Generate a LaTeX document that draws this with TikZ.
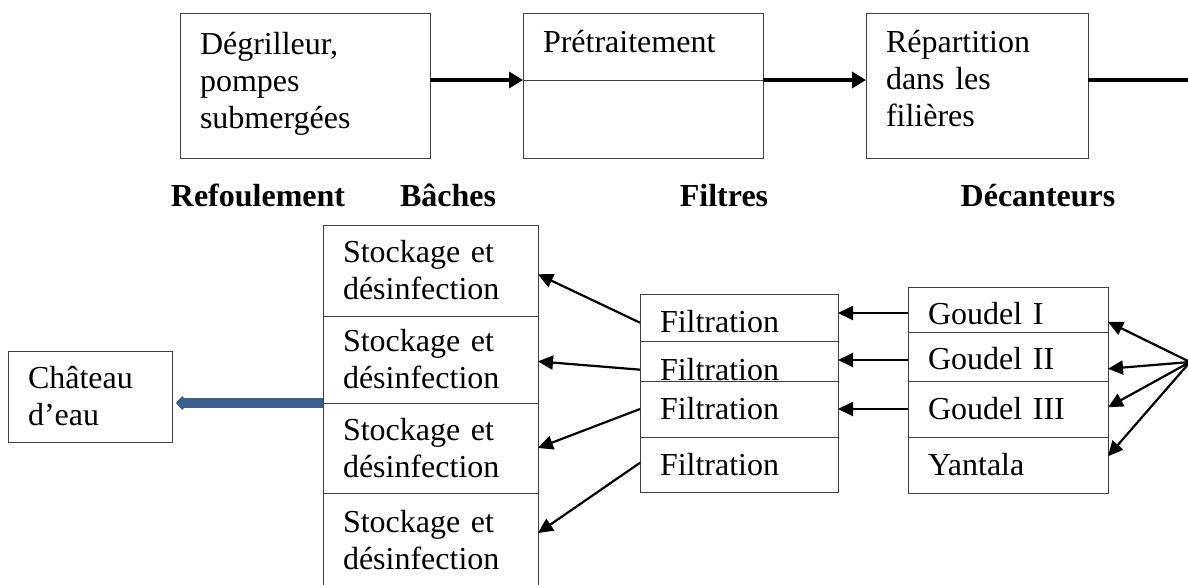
\documentclass[tikz,border=0pt]{standalone}
\usepackage{fontspec}
\setmainfont{Liberation Serif}
\usetikzlibrary{arrows.meta}
\definecolor{bleu}{RGB}{60,95,140}
\newcommand\Taille{\fontsize{32}{37}\selectfont}
\newcommand\Decale[2]{\raisebox{#1}[\height][0pt]{#2}}
\tikzset{
  box/.style={draw=black!75,line width=1pt,rectangle,anchor=north west,
    inner xsep=20pt,inner ysep=0pt,outer sep=0pt,align=left},
  titre/.style={font=\Taille\bfseries,anchor=base},
  flux/.style={>={Triangle[length=14pt,width=16pt]},->,line width=4pt},
  fleche/.style={->,line width=2.2pt},
}
\begin{document}
\begin{tikzpicture}[x=1pt,y=-1pt,font=\Taille,>={Triangle[length=15pt,width=14pt]}]
\useasboundingbox (0,0) rectangle (1188,584);

\node[box,text width=210pt,minimum height=145pt,text depth=85pt] (degr) at (180,13) {Dégrilleur,\\pompes\\submergées};
\node[box,text width=200pt,minimum height=67pt] (pre) at (523,13) {\Decale{5pt}{Prétraitement}};
\node[box,text width=200pt,minimum height=78pt] (prebas) at (pre.south west) {};
\node[box,text width=182pt,minimum height=145pt,text depth=88pt] (rep) at (866,13) {Répartition\\dans les\\filières};
\coordinate (sortie) at (1195,80);

\draw[flux] (degr.east |- prebas.north west) -- (prebas.north west);
\draw[flux] (pre.south east) -- (rep.west |- pre.south east);
\draw[line width=4pt] (rep.east |- sortie) -- (sortie);

\node[titre] (tref) at (258,206) {Refoulement};
\node[titre] (tbac) at (448,206) {Bâches};
\node[titre] (tfil) at (724,206) {Filtres};
\node[titre] (tdec) at (1038,206) {Décanteurs};

\node[box,text width=175pt,minimum height=91pt] (stock1) at (323,225) {Stockage et\\désinfection};
\node[box,text width=175pt,minimum height=87pt] (stock2) at (stock1.south west) {Stockage et\\désinfection};
\node[box,text width=175pt,minimum height=90pt] (stock3) at (stock2.south west) {Stockage et\\désinfection};
\node[box,text width=175pt,minimum height=99pt,text depth=43pt] (stock4) at (stock3.south west) {Stockage et\\désinfection};

\node[box,text width=124pt,minimum height=91pt] (chat) at (8,351) {Château\\d’eau};

\node[box,text width=158pt,minimum height=47pt] (filt1) at (640,294) {\Decale{-4pt}{Filtration}};
\node[box,text width=158pt,minimum height=40pt] (filt2) at (filt1.south west) {\Decale{-8pt}{Filtration}};
\node[box,text width=158pt,minimum height=56pt] (filt3) at (filt2.south west) {Filtration};
\node[box,text width=158pt,minimum height=55pt] (filt4) at (filt3.south west) {Filtration};

\node[box,text width=160pt,minimum height=45pt] (goud1) at (908,287) {\Decale{-4pt}{Goudel I}};
\node[box,text width=160pt,minimum height=49pt] (goud2) at (goud1.south west) {\Decale{-2pt}{Goudel II}};
\node[box,text width=160pt,minimum height=56pt] (goud3) at (goud2.south west) {Goudel III};
\node[box,text width=160pt,minimum height=56pt] (yant) at (goud3.south west) {Yantala};

\coordinate (source) at (1190,362);
\draw[fleche] (source) -- (goud1.-7);
\draw[fleche] (source) -- (goud2.-7);
\draw[fleche] (source) -- (goud3.1);
\draw[fleche] (source) -- (yant.5);

\draw[fleche] (goud1.182) -- (goud1.182 -| filt1.east);
\draw[fleche] (goud2.182) -- (goud2.182 -| filt2.east);
\draw[fleche] (goud3.west) -- (goud3.west -| filt3.east);

\draw[fleche] (filt1.183) -- (stock1.-2);
\draw[fleche] (filt2.185) -- (stock2.-1);
\draw[fleche] (filt3.west) -- (stock3.east);
\draw[fleche] (filt4.179) -- (stock4.5);

\draw[bleu,line width=10pt,>={Triangle[length=8pt,width=16pt,round]},->,shorten >=4pt]
  (stock2.south west) -- (chat.east |- stock2.south west);
\end{tikzpicture}
\end{document}
